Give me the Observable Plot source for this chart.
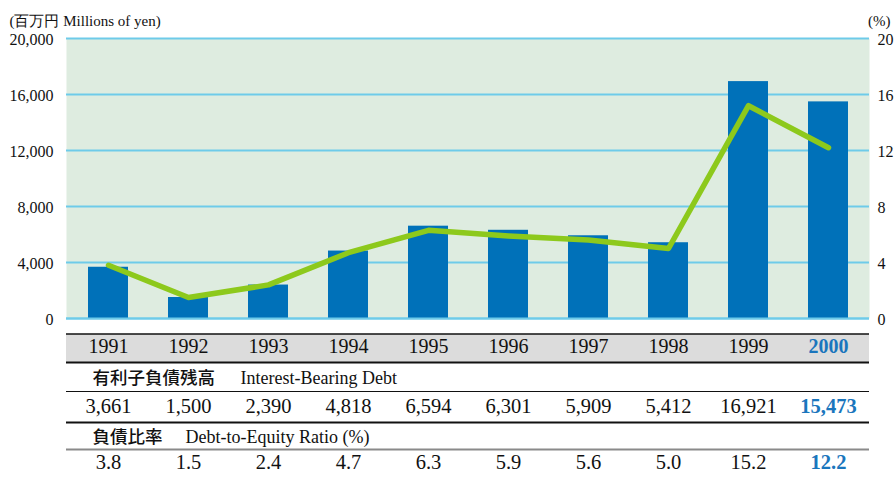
<!DOCTYPE html>
<html>
<head>
<meta charset="utf-8">
<script src="https://cdn.jsdelivr.net/npm/d3@7"></script>
<script src="https://cdn.jsdelivr.net/npm/@observablehq/plot@0.6"></script>
<style>
  html, body { margin: 0; padding: 0; background: #ffffff; }
  #chart svg { display: block; }
  #chart svg text { font-family: 'Liberation Serif', 'Times New Roman', serif; }
  #chart svg .cjk text { font-family: 'Noto Sans CJK JP', sans-serif; font-weight: 500; }
</style>
</head>
<body>
<div id="chart"></div>
<script>
const years = ["1991","1992","1993","1994","1995","1996","1997","1998","1999","2000"];
const debt = [3661, 1500, 2390, 4818, 6594, 6301, 5909, 5412, 16921, 15473];
const ratio = [3.8, 1.5, 2.4, 4.7, 6.3, 5.9, 5.6, 5.0, 15.2, 12.2];
const leftTicks = [0, 4000, 8000, 12000, 16000, 20000];
const unitLeft = "(百万円 Millions of yen)";
const unitRight = "(%)";
const row1Ja = "有利子負債残高", row1En = "Interest-Bearing Debt";
const row2Ja = "負債比率", row2En = "Debt-to-Equity Ratio (%)";

const RATIO_SCALE = 1000; // 20% on right axis == 20,000 on left axis
const data = years.map((y, i) => ({year: y, debt: debt[i], ratio: ratio[i], r: ratio[i] * RATIO_SCALE, last: i === years.length - 1}));
const normal = data.filter(d => !d.last);
const latest = data.filter(d => d.last);

const serif = "'Liberation Serif', 'Times New Roman', serif";
const hi = "#1a76bd";

function tableRow(text, dy, fontSize) {
  return [
    Plot.text(normal, {x: "year", text, frameAnchor: "bottom", dy, fontSize, fill: "#111"}),
    Plot.text(latest, {x: "year", text, frameAnchor: "bottom", dy, fontSize, fill: hi, fontWeight: "bold"})
  ];
}

const plot = Plot.plot({
  width: 894,
  height: 477,
  marginLeft: 66,
  marginRight: 25,
  marginTop: 38,
  marginBottom: 159,
  style: {fontFamily: serif, fontSize: "16px", color: "#111", background: "#fff"},
  x: {type: "band", domain: years, paddingInner: 0.5, paddingOuter: 0.25, axis: null},
  y: {domain: [0, 20000], axis: null},
  marks: [
    Plot.frame({fill: "#deece0", stroke: null}),
    Plot.gridY(leftTicks, {stroke: "#6ecbe9", strokeOpacity: 1, strokeWidth: 2}),
    Plot.barY(data, {x: "year", y: "debt", fill: "#0071b9"}),
    Plot.ruleY([0], {stroke: "#6ecbe9", strokeWidth: 2}),
    Plot.line(data, {x: "year", y: "r", stroke: "#8dc91c", strokeWidth: 5.5, strokeLinejoin: "round", strokeLinecap: "round"}),
    Plot.axisY(leftTicks, {anchor: "left", tickSize: 0, tickPadding: 13, tickFormat: d3.format(","), fontSize: 16, dy: 1}),
    Plot.axisY(leftTicks, {anchor: "right", tickSize: 0, tickPadding: 8, tickFormat: d => String(d / RATIO_SCALE), fontSize: 16, dy: 1}),
    Plot.text([unitLeft], {frameAnchor: "top-left", textAnchor: "start", dx: -57, dy: -23, fontSize: 15}),
    Plot.text([unitRight], {frameAnchor: "top-right", textAnchor: "end", dx: 21, dy: -23, fontSize: 15}),
    // table
    Plot.ruleY([0], {dy: 29.5, stroke: "#dcdcdc", strokeWidth: 28}),
    Plot.ruleY([0], {dy: 15.5, stroke: "#111", strokeWidth: 1.3}),
    Plot.ruleY([0], {dy: 44, stroke: "#111", strokeWidth: 2.2}),
    Plot.ruleY([0], {dy: 73, stroke: "#111", strokeWidth: 1.1}),
    Plot.ruleY([0], {dy: 104, stroke: "#111", strokeWidth: 2.2}),
    Plot.ruleY([0], {dy: 131, stroke: "#8a8a8a", strokeWidth: 1.8}),
    ...tableRow("year", 34.5, 20),
    Plot.text([row1Ja], {frameAnchor: "bottom-left", textAnchor: "start", dx: 26, dy: 65, fontSize: 17.5, fill: "#111", className: "cjk"}),
    Plot.text([row1En], {frameAnchor: "bottom-left", textAnchor: "start", dx: 174, dy: 65, fontSize: 18, fill: "#111"}),
    ...tableRow(d => d3.format(",")(d.debt), 94, 20.5),
    Plot.text([row2Ja], {frameAnchor: "bottom-left", textAnchor: "start", dx: 26, dy: 124, fontSize: 17.5, fill: "#111", className: "cjk"}),
    Plot.text([row2En], {frameAnchor: "bottom-left", textAnchor: "start", dx: 119, dy: 124, fontSize: 18, fill: "#111"}),
    ...tableRow(d => d.ratio.toFixed(1), 150, 20.5)
  ]
});
document.getElementById("chart").appendChild(plot);
</script>
</body>
</html>
